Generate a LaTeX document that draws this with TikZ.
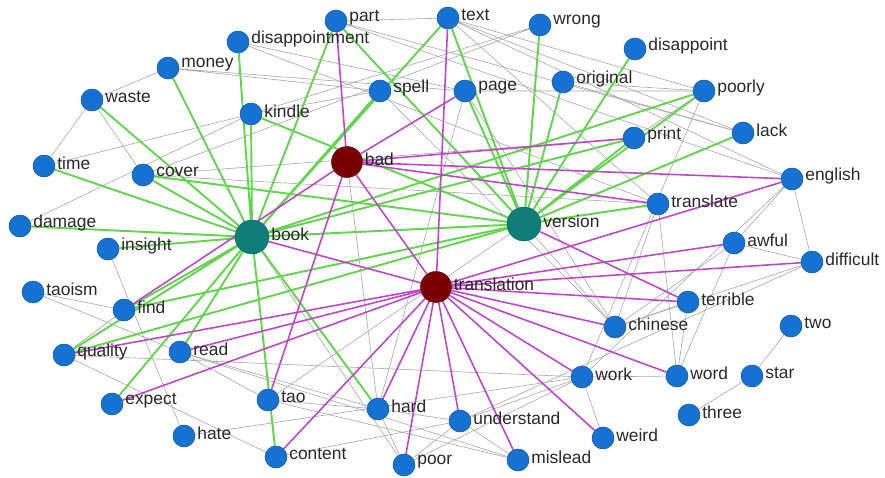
\documentclass[tikz,border=0pt]{standalone}
\usepackage{fontspec}
\setmainfont{Liberation Sans}
\usepackage{xcolor}
\usetikzlibrary{backgrounds}

\definecolor{wblue}{RGB}{22,114,210}
\definecolor{wteal}{RGB}{16,126,120}
\definecolor{wred}{RGB}{122,0,0}
\definecolor{egreen}{RGB}{100,212,80}
\definecolor{emag}{RGB}{190,70,200}
\definecolor{egray}{RGB}{168,168,168}
\definecolor{txtgray}{RGB}{40,40,40}

\tikzset{
    lbl/.style={inner sep=1pt, yshift=0.06cm, text=txtgray, font=\fontsize{9.9}{12}\selectfont},
    wd/.style={circle, fill=wblue, draw=wblue!75!black, line width=0.3pt, minimum size=0.44cm, inner sep=0pt, label={[lbl]0:#1}},
    hubg/.style={circle, fill=wteal, draw=wteal!80!black, line width=0.3pt, minimum size=0.68cm, inner sep=0pt, label={[lbl]0:#1}},
    hubr/.style={circle, fill=wred, draw=wred!80!black, line width=0.3pt, minimum size=0.62cm, inner sep=0pt, label={[lbl]0:#1}},
    gedge/.style={draw=egreen, line width=1.1pt},
    medge/.style={draw=emag, line width=0.9pt},
    thin/.style={draw=egray, line width=0.35pt}
}

\begin{document}
\begin{tikzpicture}
                \tikzset{x={(0.02cm, 0cm)}, y={(0cm, -0.02cm)}}
                \useasboundingbox (0, 0) rectangle (885, 477);
                % hubs
                \node[hubg=book]        (book)        at (252, 237) {};
                \node[hubg=version]     (version)     at (524, 224) {};
                \node[hubr=bad]         (bad)         at (347, 162) {};
                \node[hubr=translation] (translation) at (436, 287) {};
                % words
                \node[wd=part]           (part)           at (336,  21) {};
                \node[wd=text]           (text)           at (448,  18) {};
                \node[wd=wrong]          (wrong)          at (540,  25) {};
                \node[wd=disappointment] (disappointment) at (238,  42) {};
                \node[wd=disappoint]     (disappoint)     at (635,  49) {};
                \node[wd=money]          (money)          at (168,  68) {};
                \node[wd=original]       (original)       at (563,  82) {};
                \node[wd=spell]          (spell)          at (380,  91) {};
                \node[wd=page]           (page)           at (465,  91) {};
                \node[wd=poorly]         (poorly)         at (704,  91) {};
                \node[wd=waste]          (waste)          at ( 92, 100) {};
                \node[wd=kindle]         (kindle)         at (251, 114) {};
                \node[wd=lack]           (lack)           at (743, 133) {};
                \node[wd=print]          (print)          at (634, 138) {};
                \node[wd=time]           (time)           at ( 44, 166) {};
                \node[wd=cover]          (cover)          at (143, 175) {};
                \node[wd=english]        (english)        at (792, 179) {};
                \node[wd=translate]      (translate)      at (658, 204) {};
                \node[wd=damage]         (damage)         at ( 20, 226) {};
                \node[wd=insight]        (insight)        at (108, 249) {};
                \node[wd=awful]          (awful)          at (734, 243) {};
                \node[wd=difficult]      (difficult)      at (812, 262) {};
                \node[wd=taoism]         (taoism)         at ( 33, 292) {};
                \node[wd=find]           (find)           at (124, 310) {};
                \node[wd=terrible]       (terrible)       at (688, 302) {};
                \node[wd=chinese]        (chinese)        at (615, 327) {};
                \node[wd=two]            (two)            at (791, 326) {};
                \node[wd=quality]        (quality)        at ( 64, 355) {};
                \node[wd=read]           (read)           at (180, 352) {};
                \node[wd=work]           (work)           at (582, 377) {};
                \node[wd=word]           (word)           at (677, 376) {};
                \node[wd=star]           (star)           at (752, 376) {};
                \node[wd=expect]         (expect)         at (112, 404) {};
                \node[wd=tao]            (tao)            at (268, 400) {};
                \node[wd=hard]           (hard)           at (378, 409) {};
                \node[wd=three]          (three)          at (689, 415) {};
                \node[wd=understand]     (understand)     at (460, 421) {};
                \node[wd=weird]          (weird)          at (603, 438) {};
                \node[wd=hate]           (hate)           at (184, 436) {};
                \node[wd=content]        (content)        at (276, 457) {};
                \node[wd=poor]           (poor)           at (404, 465) {};
                \node[wd=mislead]        (mislead)        at (518, 460) {};
                \begin{scope}[on background layer]
                % thin links
                \draw[thin] (waste) -- (money) (waste) -- (time) (waste) -- (cover);
                \draw[thin] (money) -- (spell) (money) -- (page);
                \draw[thin] (disappointment) -- (translate) (disappointment) -- (page);
                \draw[thin] (part) -- (lack) (part) -- (text) (part) -- (english);
                \draw[thin] (text) -- (poorly) (text) -- (lack) (text) -- (english) (text) -- (translate);
                \draw[thin] (wrong) -- (kindle) (wrong) -- (cover);
                \draw[thin] (page) -- (poorly) (page) -- (chinese) (page) -- (hard);
                \draw[thin] (spell) -- (chinese) (spell) -- (kindle);
                \draw[thin] (original) -- (poorly) (original) -- (lack);
                \draw[thin] (poorly) -- (work) (poorly) -- (print);
                \draw[thin] (damage) -- (kindle) (time) -- (kindle);
                \draw[thin] (cover) -- (print) (cover) -- (translate);
                \draw[thin] (english) -- (awful) (english) -- (difficult) (english) -- (work);
                \draw[thin] (awful) -- (difficult) (awful) -- (word) (awful) -- (chinese);
                \draw[thin] (difficult) -- (chinese) (difficult) -- (understand);
                \draw[thin] (terrible) -- (word) (terrible) -- (chinese);
                \draw[thin] (translate) -- (word) (translate) -- (chinese);
                \draw[thin] (version) -- (chinese) (version) -- (tao);
                \draw[thin] (two) -- (star) (star) -- (three);
                \draw[thin] (work) -- (word) (work) -- (weird) (work) -- (understand) (work) -- (quality);
                \draw[thin] (understand) -- (poor) (understand) -- (hard) (understand) -- (mislead);
                \draw[thin] (hard) -- (poor) (hard) -- (read) (hard) -- (tao);
                \draw[thin] (tao) -- (read) (tao) -- (mislead);
                \draw[thin] (read) -- (mislead) (read) -- (taoism);
                \draw[thin] (find) -- (quality) (insight) -- (hate) (taoism) -- (find);
                \draw[thin] (quality) -- (content) (hate) -- (work) (content) -- (understand);
                \draw[thin] (poor) -- (work) (book) -- (poor) (bad) -- (hard);
                % book and version
                \draw[gedge] (book) -- (waste) (book) -- (money) (book) -- (disappointment) (book) -- (kindle);
                \draw[gedge] (book) -- (time) (book) -- (cover) (book) -- (damage) (book) -- (insight);
                \draw[gedge] (book) -- (find) (book) -- (quality) (book) -- (read) (book) -- (expect);
                \draw[gedge] (book) -- (content) (book) -- (hard) (book) -- (part) (book) -- (spell);
                \draw[gedge] (book) -- (text) (book) -- (version) (book) -- (print) (book) -- (poorly);
                \draw[gedge] (version) -- (text) (version) -- (wrong) (version) -- (original) (version) -- (disappoint);
                \draw[gedge] (version) -- (page) (version) -- (part) (version) -- (poorly) (version) -- (print);
                \draw[gedge] (version) -- (lack) (version) -- (translate) (version) -- (kindle) (version) -- (quality);
                \draw[gedge] (version) -- (find) (version) -- (cover);
                % bad and translation
                \draw[medge] (bad) -- (part) (bad) -- (page) (bad) -- (print) (bad) -- (english);
                \draw[medge] (bad) -- (translate) (bad) -- (find) (bad) -- (tao) (bad) -- (translation);
                \draw[medge] (version) -- (terrible);
                \draw[medge] (translation) -- (text) (translation) -- (english) (translation) -- (awful) (translation) -- (difficult);
                \draw[medge] (translation) -- (terrible) (translation) -- (chinese) (translation) -- (word) (translation) -- (work);
                \draw[medge] (translation) -- (weird) (translation) -- (mislead) (translation) -- (understand) (translation) -- (poor);
                \draw[medge] (translation) -- (hard) (translation) -- (content) (translation) -- (expect) (translation) -- (quality);
                \draw[medge] (translation) -- (read) (translation) -- (book);
                \end{scope}
            \end{tikzpicture}
\end{document}
